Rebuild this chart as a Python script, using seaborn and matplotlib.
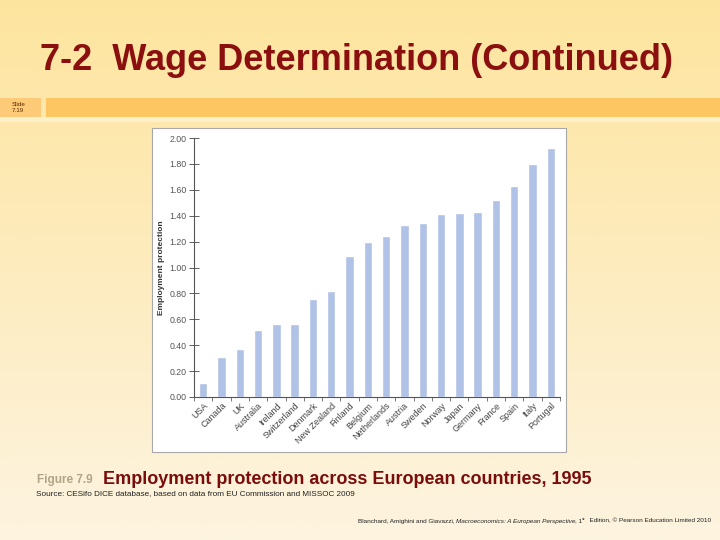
import numpy as np
import pandas as pd
import matplotlib
matplotlib.use("Agg")
import matplotlib.pyplot as plt
import seaborn as sns
from matplotlib.patches import Rectangle

countries = ["USA", "Canada", "UK", "Australia", "Ireland", "Switzerland", "Denmark",
             "New Zealand", "Finland", "Belgium", "Netherlands", "Austria", "Sweden",
             "Norway", "Japan", "Germany", "France", "Spain", "Italy", "Portugal"]
values = [0.11, 0.31, 0.37, 0.52, 0.56, 0.56, 0.76, 0.82, 1.09, 1.20, 1.24, 1.33, 1.34,
          1.41, 1.42, 1.43, 1.52, 1.63, 1.80, 1.92]
yticks = [0.0, 0.2, 0.4, 0.6, 0.8, 1.0, 1.2, 1.4, 1.6, 1.8, 2.0]

df = pd.DataFrame({"country": countries, "value": values})

sns.set_theme(style="white")
plt.rcParams["font.family"] = ["Liberation Sans", "DejaVu Sans"]

W, H = 720, 540
fig = plt.figure(figsize=(7.2, 5.4), dpi=100)

def px(x0, y0, x1, y1):
    return [x0 / W, 1 - y1 / H, (x1 - x0) / W, (y1 - y0) / H]

# background gradient
bg = fig.add_axes([0, 0, 1, 1], zorder=0)
top = np.array([253, 228, 158]) / 255
bot = np.array([253, 244, 224]) / 255
t = np.linspace(0, 1, 256)[:, None]
grad = top[None, :] * (1 - t) + bot[None, :] * t
img = np.repeat(grad[:, None, :], 2, axis=1)
bg.imshow(img, aspect="auto", extent=[0, W, H, 0])
bg.set_xlim(0, W)
bg.set_ylim(H, 0)
bg.axis("off")

# orange band and slide box
bg.add_patch(Rectangle((0, 117), W, 5, color="#FEF0C8", lw=0))
bg.add_patch(Rectangle((0, 98), 41, 19, color="#FDCB78", lw=0))
bg.add_patch(Rectangle((46, 98), W - 46, 19, color="#FEC563", lw=0))
bg.text(12, 104, "Slide", fontsize=4.5, color="#5A2A00", ha="left", va="center")
bg.text(12, 111, "7.19", fontsize=4.5, color="#5A2A00", ha="left", va="center")

# white chart panel
bg.add_patch(Rectangle((152, 128), 414, 324, facecolor="white", edgecolor="#A8A8A8", lw=0.8))

# title
bg.text(357, 61, "7-2  Wage Determination (Continued)", fontsize=26, fontweight="bold",
        color="#8C0F0F", ha="center", va="center")

# captions
bg.text(37, 480, "Figure 7.9", fontsize=8.5, color="#B2A488", ha="left", va="center",
        fontweight="bold")
bg.text(103, 480, "Employment protection across European countries, 1995", fontsize=13,
        color="#7A0C0C", fontweight="bold", ha="left", va="center")
bg.text(36, 494, "Source: CESifo DICE database, based on data from EU Commission and MISSOC 2009",
        fontsize=5.9, color="#222222", ha="left", va="center")

# footer pieces, right-aligned to x=711
renderer = fig.canvas.get_renderer()
fs = 4.6
parts = [("Blanchard, Amighini and Giavazzi, ", "normal", fs, 0),
         ("Macroeconomics: A European Perspective", "italic", fs, 0),
         (", 1", "normal", fs, 0),
         ("st", "normal", 3.2, -2.2),
         ("  Edition, © Pearson Education Limited 2010", "normal", fs, 0)]
texts = []
widths = []
for txt, style, f, dy in parts:
    tt = bg.text(0, 521 + dy, txt, fontsize=f, fontstyle=style, color="#222222",
                 ha="left", va="center")
    bb = tt.get_window_extent(renderer=renderer)
    texts.append(tt)
    widths.append(bb.width * W / fig.bbox.width)
xcur = 711 - sum(widths)
for tt, w in zip(texts, widths):
    tt.set_x(xcur)
    xcur += w

# main chart
ax = fig.add_axes(px(194, 138, 560, 397), zorder=2)
ax.patch.set_alpha(0)
sns.barplot(data=df, x="country", y="value", color="#B0C2E6", width=0.46, ax=ax,
            saturation=1)
ax.set_ylim(0, 2.0)
ax.set_xlim(-0.5, len(countries) - 0.5)
ax.set_yticks(yticks)
ax.set_yticklabels([f"{v:.2f}" for v in yticks], fontsize=6.3, color="#555555")
ax.set_xticks(range(len(countries)))
ax.set_xticklabels(countries, rotation=45, ha="right", rotation_mode="anchor",
                   fontsize=6.5, color="#444444")
ax.tick_params(axis="x", length=0, pad=3)
ax.tick_params(axis="y", direction="inout", length=7, width=0.6, color="#444444", pad=2, left=True)
ax.set_xticks(np.arange(-0.5, len(countries), 1), minor=True)
ax.tick_params(axis="x", which="minor", direction="out", length=3, width=0.5,
               color="#444444", bottom=True)
ax.set_xlabel("")
ax.set_ylabel("Employment protection", fontsize=6, fontweight="bold", color="#333333",
              labelpad=3)
for s in ["top", "right"]:
    ax.spines[s].set_visible(False)
for s in ["left", "bottom"]:
    ax.spines[s].set_color("#555555")
    ax.spines[s].set_linewidth(0.8)

fig.savefig("out.png", dpi=100)
